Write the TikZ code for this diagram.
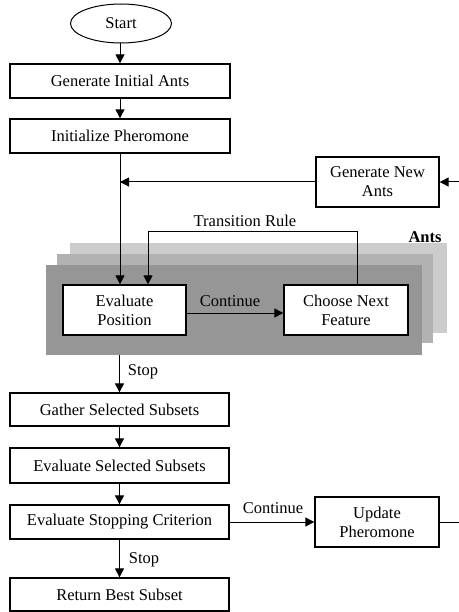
\documentclass[tikz,border=0pt]{standalone}
\usepackage{fontspec}
\setmainfont{Liberation Serif}
\usetikzlibrary{shapes.geometric,arrows.meta}
\definecolor{antlight}{HTML}{CCCCCC}
\definecolor{antmid}{HTML}{B2B2B2}
\definecolor{antdark}{HTML}{969696}
\begin{document}
\begin{tikzpicture}[x=1pt,y=1pt,
  every node/.style={font=\fontsize{16.5}{19}\selectfont},
  box/.style={draw,line width=1.3pt,fill=white,inner sep=0pt,align=center},
  arr/.style={line width=1pt,-{Triangle[length=9pt,width=9pt]}},
  ln/.style={line width=1pt},
  lbl/.style={inner sep=0pt}]
\useasboundingbox (0,0) rectangle (458,-612);
% ant layers
\node[fill=antlight,minimum width=377,minimum height=90,inner sep=0pt] (light) at (258.5,-288) {};
\node[fill=antmid,minimum width=376,minimum height=89,inner sep=0pt] (mid) at (245,-298.5) {};
\node[fill=antdark,minimum width=376,minimum height=90,inner sep=0pt] (dark) at (234,-310) {};
\node[lbl,font=\fontsize{16.5}{19}\selectfont\bfseries] (ants) at (425,-237) {Ants};
% nodes
\node[draw,ellipse,line width=1pt,minimum width=101,minimum height=39,inner sep=0pt] (start) at (121,-23.5) {Start};
\node[box,minimum width=220,minimum height=34] (geninit) at (120,-81) {Generate Initial Ants};
\node[box,minimum width=220,minimum height=34] (initph) at (120,-136) {Initialize Pheromone};
\node[box,minimum width=123,minimum height=50] (gennew) at (377.5,-182) {Generate New\\Ants};
\node[box,minimum width=123,minimum height=50] (evalpos) at (124.5,-310) {Evaluate\\Position};
\node[box,minimum width=124,minimum height=50] (choose) at (346,-310) {Choose Next\\Feature};
\node[box,minimum width=219,minimum height=33] (gather) at (119.5,-409.5) {Gather Selected Subsets};
\node[box,minimum width=219,minimum height=35] (evalsel) at (119.5,-465.5) {Evaluate Selected Subsets};
\node[box,minimum width=219,minimum height=34] (stopcrit) at (119.5,-522) {Evaluate Stopping Criterion};
\node[box,minimum width=219,minimum height=33] (ret) at (119.5,-594.5) {Return Best Subset};
\node[box,minimum width=124,minimum height=50] (update) at (377,-522) {Update\\Pheromone};
% labels
\node[lbl] (ltr) at (245,-221) {Transition Rule};
\node[lbl] (lc1) at (230,-301) {Continue};
\node[lbl] (ls1) at (143,-372) {Stop};
\node[lbl] (lc2) at (273,-508) {Continue};
\node[lbl] (ls2) at (144,-560) {Stop};
% coordinates
\coordinate (j1) at (120,-182);
\coordinate (t1) at (357,-231);
\coordinate (t2) at (148,-231);
\coordinate (r1) at (475,-522);
\coordinate (r2) at (475,-182);
% connectors
\draw[arr] (start.south -| geninit.north) -- (geninit.north);
\draw[arr] (geninit) -- (initph);
\draw[arr] (initph.south) -- (initph.south |- evalpos.north);
\draw[arr] (gennew.west) -- (j1);
\draw[ln] (t1 |- choose.north) -- (t1) -- (t2);
\draw[arr] (t2) -- (t2 |- evalpos.north);
\draw[arr] (evalpos.east |- 0,-313) -- (choose.west |- 0,-313);
\draw[arr] (dark.south -| gather.north) -- (gather.north);
\draw[arr] (gather) -- (evalsel);
\draw[arr] (evalsel) -- (stopcrit);
\draw[arr] (stopcrit) -- (ret);
\draw[arr] (stopcrit) -- (update);
\draw[ln] (update.east) -- (r1) -- (r2);
\draw[arr] (r2) -- (gennew.east);
\end{tikzpicture}
\end{document}
